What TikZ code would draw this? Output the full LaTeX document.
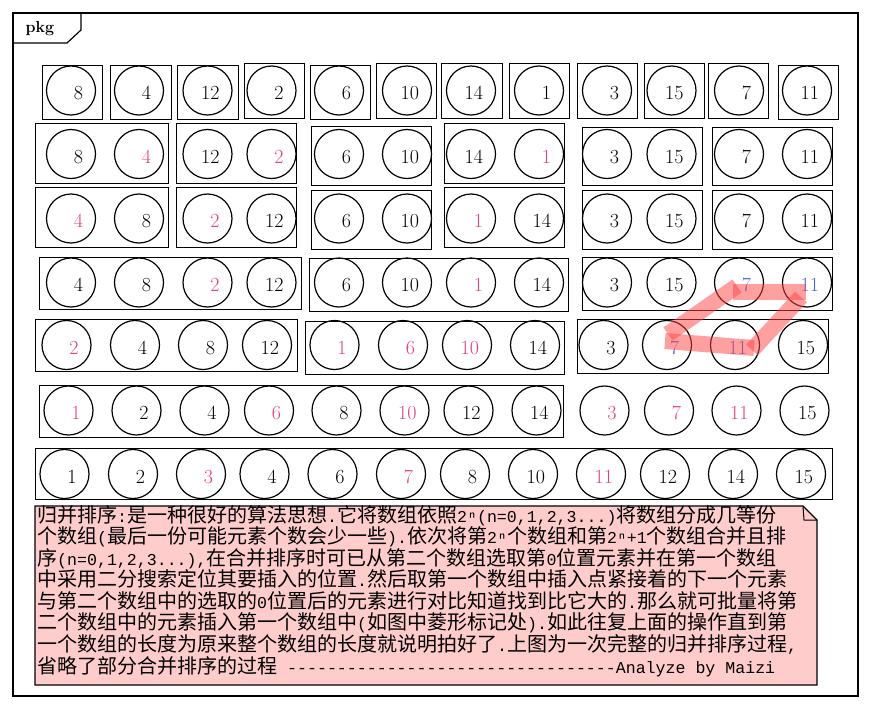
\documentclass[tikz,border=0pt]{standalone}
\usepackage{fontspec}
\usepackage{tikz}
\usetikzlibrary{positioning}
\newfontfamily\cjk{Noto Sans CJK SC}
\newfontfamily\half{Liberation Mono}
\definecolor{pk}{RGB}{226,64,128}
\definecolor{bl}{RGB}{70,100,210}
\definecolor{notefill}{RGB}{255,204,204}
\definecolor{hl}{RGB}{255,65,65}
\newcommand{\hw}[1]{{\half\fontsize{16.6}{20}\selectfont #1}}

\begin{document}
\begin{tikzpicture}[x=1pt,y=-1pt,
            cell/.style={
              draw,
              circle,
              line width=1.2pt,
              minimum size=49pt,
              inner sep=0pt,
              text width=24pt,
              align=right,
              text height=18.9pt,
              text depth=0pt,
              font=\fontsize{20}{20}\selectfont
            },
            grp/.style={draw, line width=0.9pt},
            hilite/.style={draw=hl, line width=16pt, opacity=0.5},
            notebox/.style={draw, line width=1.2pt, fill=notefill}
            ]
            \useasboundingbox (0,0) rectangle (872,709);
            % package frame
            \draw[line width=1.2pt] (13,13) rectangle (858,696);
            \draw[line width=1.2pt] (13,43) -- (67,43) -- (81,30) -- (81,13);
            \node[font=\bfseries\fontsize{16}{16}\selectfont] (pkg) at (40,29) {pkg};

            % row 1: single elements
            \foreach \x/\v [count=\i] in {71/8,139/4,207.5/12,271.5/2,339/6,407/10,471/14,539/1,607/3,671.5/15,739/7,807/11}
              \node[cell] (r1c\i) at (\x,90.5) {\v};
            \foreach \xa/\ya/\xb/\yb in {42/65/102/119,110/65/171/119,177/65/238/119,244/63/304/118,310/65/370/119,376/63/436/118,441/63/502/118,509/63/569/118,577/63/637/118,644/63/704/118,708/63/768/118,778/65/838/119}
              \draw[grp] (\xa,\ya) rectangle (\xb,\yb);

            % row 2
            \foreach \x/\v/\c [count=\i] in {71/8/black,139/4/pk,207.5/12/black,271.5/2/pk,339/6/black,407/10/black,471/14/black,539/1/pk,607/3/black,671.5/15/black,739/7/black,807/11/black}
              \node[cell,text=\c] (r2c\i) at (\x,154) {\v};
            \foreach \xa/\ya/\xb/\yb in {35/123/168/183,176/123/296/183,311/126/431/185,444/123/564/183,582/127/702/185,712/127/832/185}
              \draw[grp] (\xa,\ya) rectangle (\xb,\yb);

            % row 3
            \foreach \x/\v/\c [count=\i] in {71/4/pk,139/8/black,207.5/2/pk,271.5/12/black,339/6/black,407/10/black,471/1/pk,539/14/black,607/3/black,671.5/15/black,739/7/black,807/11/black}
              \node[cell,text=\c] (r3c\i) at (\x,218.5) {\v};
            \foreach \xa/\ya/\xb/\yb in {35/187/168/247,176/187/296/247,311/190/431/249,444/187/564/247,582/190/702/249,712/190/832/249}
              \draw[grp] (\xa,\ya) rectangle (\xb,\yb);

            % row 4
            \foreach \x/\v/\c [count=\i] in {71/4/black,139/8/black,207.5/2/pk,271.5/12/black,339/6/black,407/10/black,471/1/pk,539/14/black,607/3/black,671.5/15/black,739/7/bl,807/11/bl}
              \node[cell,text=\c] (r4c\i) at (\x,282.5) {\v};
            \foreach \xa/\ya/\xb/\yb in {39/257/301/309,309/258/568/311,582/257/832/310}
              \draw[grp] (\xa,\ya) rectangle (\xb,\yb);

            % row 5
            \foreach \x/\v/\c [count=\i] in {66.5/2/pk,135/4/black,203/8/black,267/12/black,334.5/1/pk,403/6/pk,467/10/pk,535/14/black,603.5/3/black,667/7/bl,735/11/bl,803/15/black}
              \node[cell,text=\c] (r5c\i) at (\x,345) {\v};
            \foreach \xa/\ya/\xb/\yb in {35/319/297/371,305/321/564/374,577/319/828/373}
              \draw[grp] (\xa,\ya) rectangle (\xb,\yb);

            % row 6
            \foreach \x/\v/\c [count=\i] in {68.5/1/pk,136.5/2/black,204.5/4/black,269/6/pk,336.5/8/black,404.5/10/pk,468.5/12/black,536.5/14/black,604.5/3/pk,669/7/pk,736.5/11/pk,804.5/15/black}
              \node[cell,text=\c] (r6c\i) at (\x,410.5) {\v};
            \draw[grp] (39,385) rectangle (563,437);

            % row 7: sorted
            \foreach \x/\v/\c [count=\i] in {64.5/1/black,133/2/black,201/3/pk,264.5/4/black,332.5/6/black,401/7/pk,465/8/black,533/10/black,601/11/pk,665/12/black,733/14/black,801/15/black}
              \node[cell,text=\c] (r7c\i) at (\x,474) {\v};
            \draw[grp] (35,448) rectangle (832,499);

            % diamond mark
            \draw[hilite] (668,334) -- (737,286);
            \draw[hilite] (733,292) -- (806,292);
            \draw[hilite] (801,297) -- (752,350);
            \draw[hilite] (754,348) -- (665,341);

            % note
            \draw[notebox] (35,506) -- (803,506) -- (817,520) -- (817,685) -- (35,685) -- cycle;
            \draw[line width=1pt] (803,506) -- (804,520) -- (817,520);
            \node[anchor=north west, align=left, inner sep=0pt,
                  font=\cjk\fontsize{20}{21.57}\selectfont] (expl) at (37,505) {%
              归并排序\hw{:}是一种很好的算法思想\hw{.}它将数组依照\hw{2ⁿ(n=0,1,2,3...)}将数组分成几等份\\
              个数组\hw{(}最后一份可能元素个数会少一些\hw{).}依次将第\hw{2ⁿ}个数组和第\hw{2ⁿ+1}个数组合并且排\\
              序\hw{(n=0,1,2,3...),}在合并排序时可已从第二个数组选取第\hw{0}位置元素并在第一个数组\\
              中采用二分搜索定位其要插入的位置\hw{.}然后取第一个数组中插入点紧接着的下一个元素\\
              与第二个数组中的选取的\hw{0}位置后的元素进行对比知道找到比它大的\hw{.}那么就可批量将第\\
              二个数组中的元素插入第一个数组中\hw{(}如图中菱形标记处\hw{).}如此往复上面的操作直到第\\
              一个数组的长度为原来整个数组的长度就说明拍好了\hw{.}上图为一次完整的归并排序过程\hw{,}\\
              省略了部分合并排序的过程\hw{\ ---------------------------------Analyze by Maizi}};
        \end{tikzpicture}
\end{document}
